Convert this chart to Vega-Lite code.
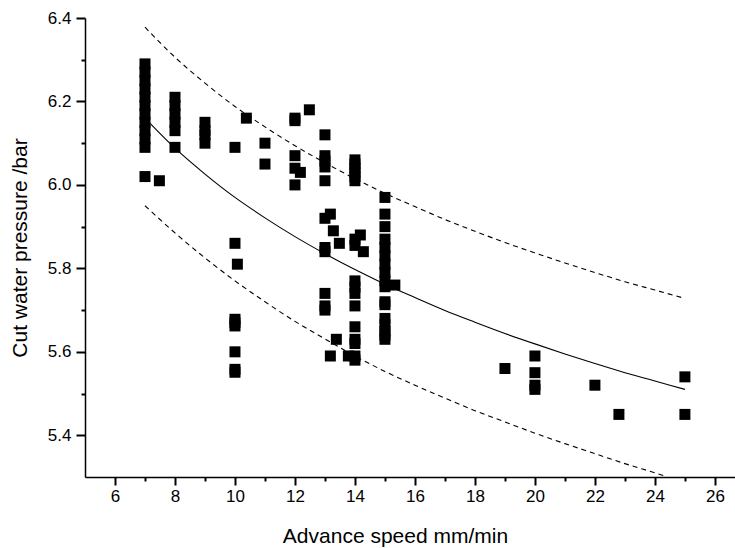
{
  "$schema": "https://vega.github.io/schema/vega-lite/v6.json",
  "width": 650,
  "height": 459,
  "autosize": {"type": "none"},
  "padding": {"left": 85, "top": 18, "right": 0, "bottom": 71},
  "background": "white",
  "view": {"stroke": null},
  "config": {
    "font": "Liberation Sans"
  },
  "datasets": {
    "pts": [
      {"x": 7, "y": 6.29}, {"x": 7, "y": 6.27}, {"x": 7, "y": 6.25}, {"x": 7, "y": 6.23}, {"x": 7, "y": 6.21}, {"x": 7, "y": 6.19}, {"x": 7, "y": 6.17}, {"x": 7, "y": 6.15}, {"x": 7, "y": 6.13}, {"x": 7, "y": 6.11}, {"x": 7, "y": 6.09}, {"x": 7, "y": 6.02},
      {"x": 7.48, "y": 6.01},
      {"x": 8, "y": 6.21}, {"x": 8, "y": 6.19}, {"x": 8, "y": 6.17}, {"x": 8, "y": 6.15}, {"x": 8, "y": 6.13}, {"x": 8, "y": 6.09},
      {"x": 9, "y": 6.15}, {"x": 9, "y": 6.13}, {"x": 9, "y": 6.12}, {"x": 9, "y": 6.1},
      {"x": 10, "y": 6.09}, {"x": 10, "y": 5.86}, {"x": 10, "y": 5.678}, {"x": 10, "y": 5.67}, {"x": 10, "y": 5.662}, {"x": 10, "y": 5.6}, {"x": 10, "y": 5.558}, {"x": 10, "y": 5.551},
      {"x": 10.08, "y": 5.81},
      {"x": 10.38, "y": 6.16},
      {"x": 11, "y": 6.1}, {"x": 11, "y": 6.05},
      {"x": 12, "y": 6.16}, {"x": 12, "y": 6.154}, {"x": 12, "y": 6.07}, {"x": 12, "y": 6.04}, {"x": 12, "y": 6.0},
      {"x": 12.18, "y": 6.03},
      {"x": 12.48, "y": 6.18},
      {"x": 13, "y": 6.12}, {"x": 13, "y": 6.07}, {"x": 13, "y": 6.057}, {"x": 13, "y": 6.043}, {"x": 13, "y": 6.01}, {"x": 13, "y": 5.92}, {"x": 13, "y": 5.85}, {"x": 13, "y": 5.84}, {"x": 13, "y": 5.74}, {"x": 13, "y": 5.71}, {"x": 13, "y": 5.7},
      {"x": 13.18, "y": 5.93}, {"x": 13.18, "y": 5.59},
      {"x": 13.28, "y": 5.89},
      {"x": 13.38, "y": 5.63},
      {"x": 13.48, "y": 5.86},
      {"x": 13.78, "y": 5.59},
      {"x": 14, "y": 6.06}, {"x": 14, "y": 6.05}, {"x": 14, "y": 6.04}, {"x": 14, "y": 6.03}, {"x": 14, "y": 6.02}, {"x": 14, "y": 6.01}, {"x": 14, "y": 5.87}, {"x": 14, "y": 5.855}, {"x": 14, "y": 5.77}, {"x": 14, "y": 5.755}, {"x": 14, "y": 5.74}, {"x": 14, "y": 5.71}, {"x": 14, "y": 5.66}, {"x": 14, "y": 5.63}, {"x": 14, "y": 5.62}, {"x": 14, "y": 5.59}, {"x": 14, "y": 5.58},
      {"x": 14.18, "y": 5.88},
      {"x": 14.28, "y": 5.84},
      {"x": 15, "y": 5.97}, {"x": 15, "y": 5.93}, {"x": 15, "y": 5.9}, {"x": 15, "y": 5.87}, {"x": 15, "y": 5.85}, {"x": 15, "y": 5.83}, {"x": 15, "y": 5.81}, {"x": 15, "y": 5.79}, {"x": 15, "y": 5.77}, {"x": 15, "y": 5.756}, {"x": 15, "y": 5.72}, {"x": 15, "y": 5.713}, {"x": 15, "y": 5.68}, {"x": 15, "y": 5.665}, {"x": 15, "y": 5.65}, {"x": 15, "y": 5.64}, {"x": 15, "y": 5.63},
      {"x": 15.33, "y": 5.76},
      {"x": 19, "y": 5.56},
      {"x": 20, "y": 5.59}, {"x": 20, "y": 5.55}, {"x": 20, "y": 5.52}, {"x": 20, "y": 5.51},
      {"x": 22, "y": 5.52},
      {"x": 22.8, "y": 5.45},
      {"x": 25, "y": 5.54}, {"x": 25, "y": 5.45}
    ],
    "curves": [
      {"s": "fit", "x": 7, "y": 6.16}, {"s": "fit", "x": 8, "y": 6.088}, {"s": "fit", "x": 9, "y": 6.026}, {"s": "fit", "x": 10, "y": 5.97}, {"s": "fit", "x": 11, "y": 5.921}, {"s": "fit", "x": 12, "y": 5.876}, {"s": "fit", "x": 13, "y": 5.835}, {"s": "fit", "x": 14, "y": 5.797}, {"s": "fit", "x": 15, "y": 5.762}, {"s": "fit", "x": 16, "y": 5.73}, {"s": "fit", "x": 17, "y": 5.699}, {"s": "fit", "x": 18, "y": 5.671}, {"s": "fit", "x": 19, "y": 5.644}, {"s": "fit", "x": 20, "y": 5.619}, {"s": "fit", "x": 21, "y": 5.595}, {"s": "fit", "x": 22, "y": 5.572}, {"s": "fit", "x": 23, "y": 5.55}, {"s": "fit", "x": 24, "y": 5.53}, {"s": "fit", "x": 25, "y": 5.51},
      {"s": "upper", "x": 7, "y": 6.378}, {"s": "upper", "x": 8, "y": 6.306}, {"s": "upper", "x": 9, "y": 6.244}, {"s": "upper", "x": 10, "y": 6.188}, {"s": "upper", "x": 11, "y": 6.139}, {"s": "upper", "x": 12, "y": 6.094}, {"s": "upper", "x": 13, "y": 6.053}, {"s": "upper", "x": 14, "y": 6.015}, {"s": "upper", "x": 15, "y": 5.98}, {"s": "upper", "x": 16, "y": 5.948}, {"s": "upper", "x": 17, "y": 5.917}, {"s": "upper", "x": 18, "y": 5.889}, {"s": "upper", "x": 19, "y": 5.862}, {"s": "upper", "x": 20, "y": 5.837}, {"s": "upper", "x": 21, "y": 5.813}, {"s": "upper", "x": 22, "y": 5.79}, {"s": "upper", "x": 23, "y": 5.768}, {"s": "upper", "x": 24, "y": 5.748}, {"s": "upper", "x": 25, "y": 5.728},
      {"s": "lower", "x": 7, "y": 5.95}, {"s": "lower", "x": 8, "y": 5.885}, {"s": "lower", "x": 9, "y": 5.825}, {"s": "lower", "x": 10, "y": 5.77}, {"s": "lower", "x": 11, "y": 5.72}, {"s": "lower", "x": 12, "y": 5.673}, {"s": "lower", "x": 13, "y": 5.631}, {"s": "lower", "x": 14, "y": 5.59}, {"s": "lower", "x": 15, "y": 5.553}, {"s": "lower", "x": 16, "y": 5.52}, {"s": "lower", "x": 17, "y": 5.489}, {"s": "lower", "x": 18, "y": 5.459}, {"s": "lower", "x": 19, "y": 5.432}, {"s": "lower", "x": 20, "y": 5.405}, {"s": "lower", "x": 21, "y": 5.38}, {"s": "lower", "x": 22, "y": 5.356}, {"s": "lower", "x": 23, "y": 5.332}, {"s": "lower", "x": 24, "y": 5.31}, {"s": "lower", "x": 24.4, "y": 5.301}
    ]
  },
  "resolve": {"axis": {"x": "independent", "y": "independent"}},
  "layer": [
    {
      "data": {"name": "curves"},
      "transform": [{"filter": "datum.s === 'fit'"}],
      "mark": {"type": "line", "color": "black", "strokeWidth": 1.1, "interpolate": "monotone"},
      "encoding": {
        "x": {
          "field": "x", "type": "quantitative",
          "scale": {"domain": [5, 26.67], "nice": false, "zero": false},
          "axis": {
            "orient": "bottom", "title": null, "labels": false, "grid": false, "domain": false,
            "values": [7,9,11,13,15,17,19,21,23,25],
            "ticks": true, "tickSize": 4, "tickWidth": 2, "tickColor": "#000000", "tickOpacity": 1
          }
        },
        "y": {
          "field": "y", "type": "quantitative",
          "scale": {"domain": [5.3, 6.4], "nice": false, "zero": false},
          "axis": {
            "orient": "left", "title": null, "labels": false, "grid": false, "domain": false,
            "values": [5.5,5.7,5.9,6.1,6.3],
            "ticks": true, "tickSize": 4, "tickWidth": 2, "tickColor": "#000000", "tickOpacity": 1
          }
        }
      }
    },
    {
      "data": {"name": "curves"},
      "transform": [{"filter": "datum.s !== 'fit'"}],
      "mark": {"type": "line", "color": "black", "strokeWidth": 1.1, "strokeDash": [5, 4], "interpolate": "monotone", "clip": true},
      "encoding": {
        "x": {"field": "x", "type": "quantitative", "axis": null},
        "y": {"field": "y", "type": "quantitative", "axis": null},
        "detail": {"field": "s"}
      }
    },
    {
      "data": {"name": "pts"},
      "mark": {"type": "point", "shape": "square", "filled": true, "color": "black", "opacity": 1, "size": 121},
      "encoding": {
        "x": {
          "field": "x", "type": "quantitative",
          "axis": {
            "orient": "bottom",
            "title": "Advance speed mm/min",
            "titleX": 310,
            "values": [6,8,10,12,14,16,18,20,22,24,26],
            "grid": false,
            "domainColor": "#000000", "domainWidth": 1.5,
            "ticks": true, "tickColor": "#000000", "tickWidth": 2, "tickSize": 8, "tickOpacity": 1,
            "labelColor": "black", "labelFontSize": 17, "labelFont": "Liberation Sans", "labelPadding": 3,
            "titleColor": "black", "titleFontSize": 21, "titleFont": "Liberation Sans", "titleFontWeight": "normal", "titlePadding": 21
          }
        },
        "y": {
          "field": "y", "type": "quantitative",
          "axis": {
            "orient": "left",
            "title": "Cut water pressure /bar",
            "values": [5.4,5.6,5.8,6.0,6.2,6.4],
            "format": ".1f",
            "grid": false,
            "domainColor": "#000000", "domainWidth": 1.5,
            "ticks": true, "tickColor": "#000000", "tickWidth": 2, "tickSize": 9, "tickOpacity": 1,
            "labelColor": "black", "labelFontSize": 17, "labelFont": "Liberation Sans", "labelPadding": 5,
            "titleColor": "black", "titleFontSize": 21, "titleFont": "Liberation Sans", "titleFontWeight": "normal", "titlePadding": 17
          }
        }
      }
    }
  ]
}
